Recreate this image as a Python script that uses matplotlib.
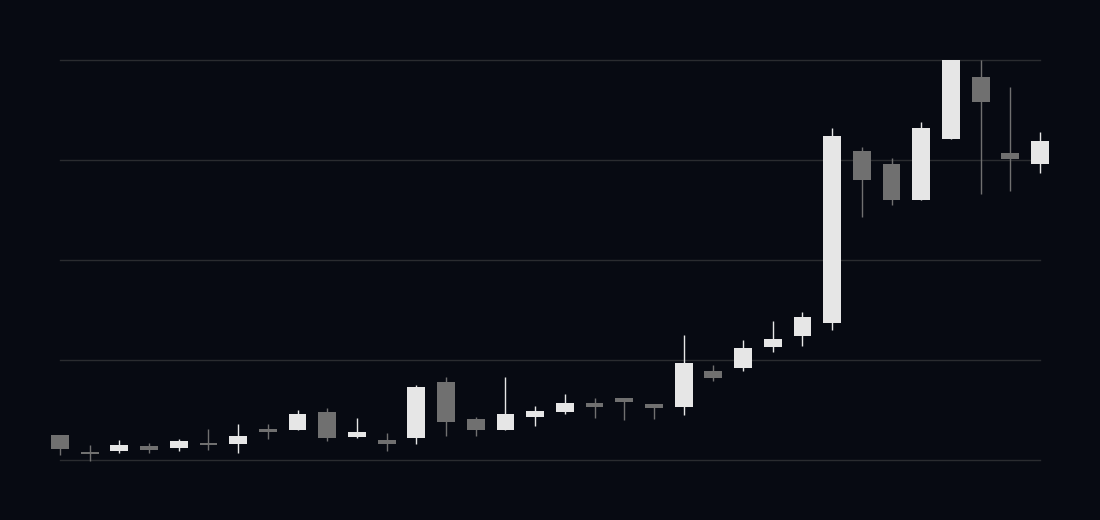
import matplotlib
matplotlib.use("Agg")
import matplotlib.pyplot as plt
from matplotlib.patches import Rectangle

opens  = [25, 8, 9, 14, 12, 17, 16, 31, 30, 48, 23, 20, 22, 78, 41, 30, 43, 48, 57, 62, 56, 53,
          89, 92, 113, 124, 137, 309, 296, 260, 321, 383, 307, 296]
closes = [11, 6, 15, 10, 19, 15, 24, 28, 46, 22, 28, 16, 73, 38, 30, 46, 49, 57, 53, 58, 52, 97,
          82, 112, 121, 143, 324, 280, 260, 332, 400, 358, 301, 319]
highs  = [25, 15, 20, 17, 21, 31, 36, 36, 50, 52, 42, 27, 75, 83, 43, 83, 54, 66, 62, 62, 56, 125,
          95, 120, 139, 148, 332, 313, 302, 338, 400, 400, 373, 328]
lows   = [5, -1, 7, 7, 9, 10, 7, 21, 30, 19, 22, 9, 16, 24, 24, 30, 34, 46, 42, 40, 41, 45,
          79, 89, 108, 114, 130, 243, 255, 260, 321, 266, 269, 287]
grid_levels = [0, 100, 200, 300, 400]

BG = "#070a12"
UP = "#e6e6e6"
DOWN = "#707070"
GRID = "#2a2c30"

fig = plt.figure(figsize=(11, 5.2), dpi=100, facecolor=BG)
ax = fig.add_axes([60/1100, 60/520, 980/1100, 400/520])
ax.set_facecolor(BG)
ax.set_xlim(0, len(opens) - 1)
ax.set_ylim(grid_levels[0], grid_levels[-1])
for s in ax.spines.values():
    s.set_visible(False)
ax.set_xticks([])
ax.set_yticks([])

for g in grid_levels:
    ax.axhline(g, color=GRID, lw=1.0, zorder=0, clip_on=False)

w = 0.6
for i, (o, c, h, l) in enumerate(zip(opens, closes, highs, lows)):
    col = UP if c >= o else DOWN
    ax.vlines(i, l, h, color=col, lw=1.0, zorder=2, clip_on=False)
    ax.add_patch(Rectangle((i - w/2, min(o, c)), w, abs(c - o), facecolor=col,
                           edgecolor="none", zorder=3, clip_on=False))

fig.savefig("out.png", dpi=100, facecolor=BG)
